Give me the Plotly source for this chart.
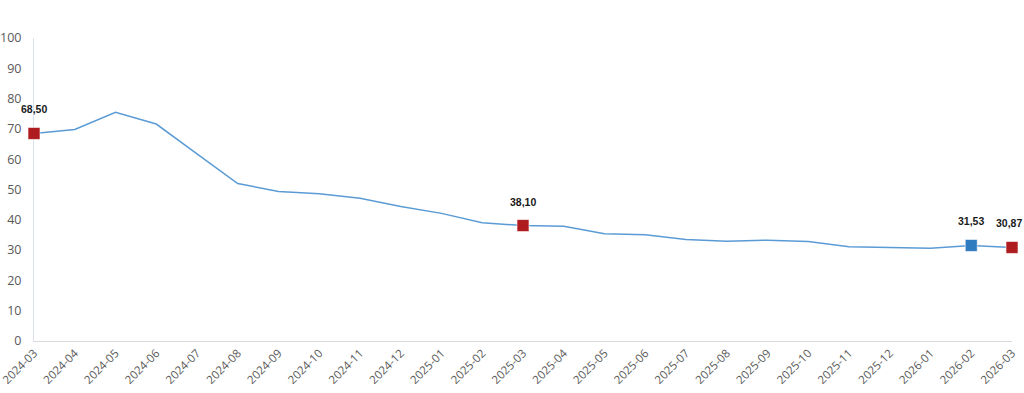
import plotly.graph_objects as go

months = ["2024-03","2024-04","2024-05","2024-06","2024-07","2024-08","2024-09","2024-10",
          "2024-11","2024-12","2025-01","2025-02","2025-03","2025-04","2025-05","2025-06",
          "2025-07","2025-08","2025-09","2025-10","2025-11","2025-12","2026-01","2026-02","2026-03"]
values = [68.50, 69.80, 75.45, 71.60, 61.78, 51.97, 49.38, 48.58, 47.09, 44.38, 42.12, 39.05,
          38.10, 37.86, 35.41, 35.05, 33.52, 32.95, 33.29, 32.87, 31.07, 30.89, 30.65, 31.53, 30.87]
highlight_months = ["2024-03", "2025-03", "2026-02", "2026-03"]
highlight_colors = ["#AE1C20", "#AE1C20", "#2E7BC0", "#AE1C20"]
y_ticks = [0, 10, 20, 30, 40, 50, 60, 70, 80, 90, 100]

fig = go.Figure()
fig.add_trace(go.Scatter(x=months, y=values, mode="lines",
                         line=dict(color="#5B9BD5", width=1.5), cliponaxis=False,
                         showlegend=False, hoverinfo="skip"))
hv = [values[months.index(m)] for m in highlight_months]
fig.add_trace(go.Scatter(x=highlight_months, y=hv, mode="markers",
                         marker=dict(symbol="square", size=12, color=highlight_colors,
                                     line=dict(color="rgba(255,255,255,0.6)", width=1)),
                         cliponaxis=False, showlegend=False))
for i, (m, v) in enumerate(zip(highlight_months, hv)):
    fig.add_annotation(x=m, y=v, text="<b>" + f"{v:.2f}".replace(".", ",") + "</b>",
                       showarrow=False, yshift=24,
                       xshift=(-3 if i == len(hv) - 1 else 0),
                       font=dict(family="Liberation Sans, Arial", size=10.5, color="#1a1a1a"))

fig.update_layout(
    width=1024, height=393,
    margin=dict(l=34, r=12, t=38, b=52),
    paper_bgcolor="white", plot_bgcolor="white",
    font=dict(family="Open Sans, Noto Sans, sans-serif", color="#595959"),
)
fig.update_xaxes(type="category", range=[0, len(months) - 1], showgrid=False,
                 showline=True, linecolor="#D9D9D9", linewidth=1, automargin=False,
                 layer="below traces",
                 tickangle=-45, tickfont=dict(size=11.5, color="#595959"), ticks="",
                 zeroline=False)
fig.update_yaxes(range=[0, 100], tickvals=y_ticks, showgrid=False, automargin=False,
                 layer="below traces",
                 showline=True, linecolor="#DCE3EE", linewidth=1, ticks="",
                 tickfont=dict(size=12.5, color="#595959"), zeroline=False, ticklabelstandoff=9)
fig.write_html("out.html")
